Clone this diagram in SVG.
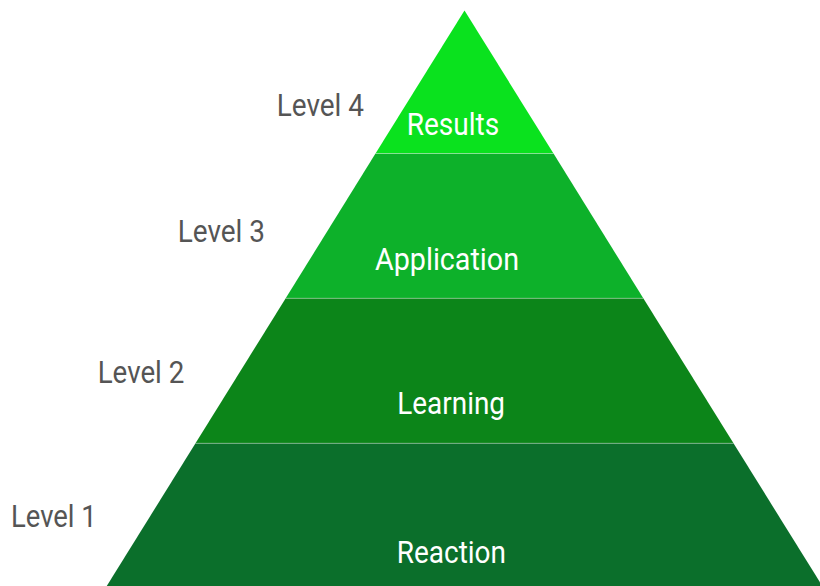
<svg xmlns="http://www.w3.org/2000/svg" width="820" height="586" viewBox="0 0 820 586">
  <style>
    .tier-label { font-family: Roboto, "Liberation Sans", sans-serif; font-size: 31.5px; fill: #ffffff; }
    .level-label { font-family: Roboto, "Liberation Sans", sans-serif; font-size: 32px; fill: #555555; }
    .sep { stroke: #ffffff; stroke-opacity: 0.35; stroke-width: 1; }
  </style>
  <rect width="820" height="586" fill="#ffffff"/>

  <!-- Pyramid tiers, apex at (464.5, 10.5), edge slope 0.622 -->
  <g id="tier-results">
    <polygon points="464.5,10.5 375.5,153.5 553.5,153.5" fill="#0ae21e"/>
    <text class="tier-label" x="406.7" y="135" textLength="92.6" lengthAdjust="spacingAndGlyphs">Results</text>
  </g>
  <g id="tier-application">
    <polygon points="375.5,153.5 553.5,153.5 643.3,298.3 285.7,298.3" fill="#0db12a"/>
    <text class="tier-label" x="375" y="270" textLength="144" lengthAdjust="spacingAndGlyphs">Application</text>
  </g>
  <g id="tier-learning">
    <polygon points="285.7,298.3 643.3,298.3 733.5,443.3 195.5,443.3" fill="#0c8519"/>
    <text class="tier-label" x="397.3" y="414" textLength="107.7" lengthAdjust="spacingAndGlyphs">Learning</text>
  </g>
  <g id="tier-reaction">
    <polygon points="195.5,443.3 733.5,443.3 823.5,588 105.5,588" fill="#0b6f2b"/>
    <text class="tier-label" x="396.7" y="563.3" textLength="109.3" lengthAdjust="spacingAndGlyphs">Reaction</text>
  </g>

  <!-- Thin light separators between tiers -->
  <g id="separators">
    <line class="sep" x1="375.5" y1="153.5" x2="553.5" y2="153.5"/>
    <line class="sep" x1="285.7" y1="298.3" x2="643.3" y2="298.3"/>
    <line class="sep" x1="195.5" y1="443.3" x2="733.5" y2="443.3"/>
  </g>

  <!-- Level captions -->
  <g id="level-4"><text class="level-label" x="276.7" y="116" textLength="87.3" lengthAdjust="spacingAndGlyphs">Level 4</text></g>
  <g id="level-3"><text class="level-label" x="177.7" y="242" textLength="87.3" lengthAdjust="spacingAndGlyphs">Level 3</text></g>
  <g id="level-2"><text class="level-label" x="97.7" y="383.3" textLength="86.6" lengthAdjust="spacingAndGlyphs">Level 2</text></g>
  <g id="level-1"><text class="level-label" x="11" y="527" textLength="85.7" lengthAdjust="spacingAndGlyphs">Level 1</text></g>
</svg>
